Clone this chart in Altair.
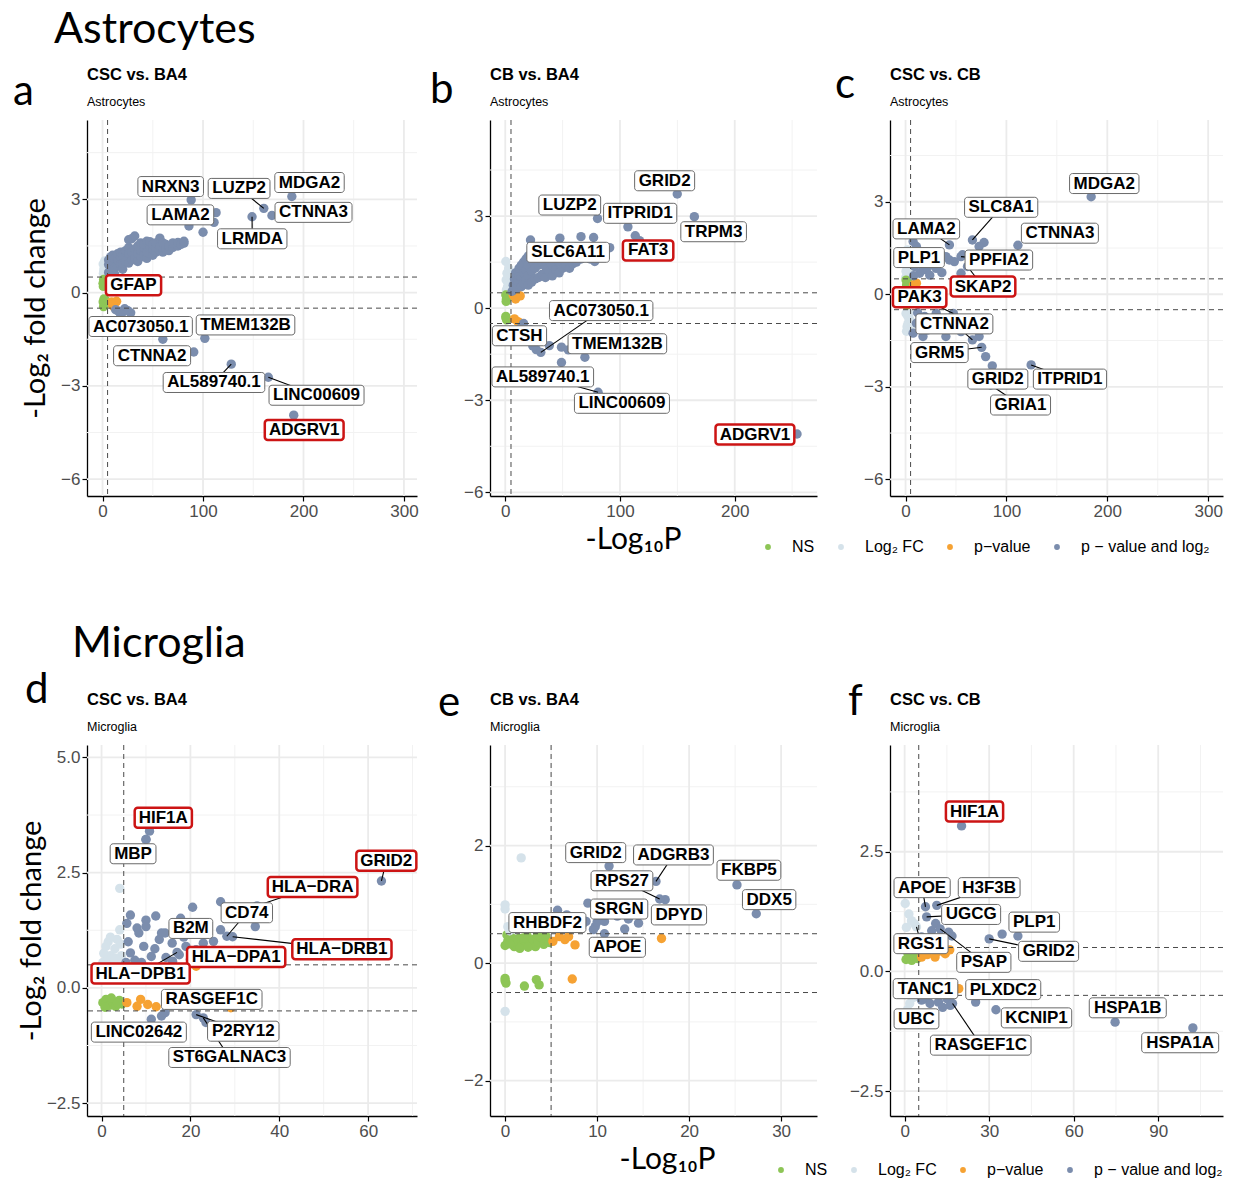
import altair as alt
import pandas as pd

P_CUT = 5
FC_CUT = 0.5

CATS = ["NS", "Log₂ FC", "p−value", "p − value and log₂"]
CAT_COLORS = ["#8DC556", "#D5E2EA", "#F6A233", "#7B8DAD"]

# ---------------- panel a : CSC vs. BA4, Astrocytes ----------------
A_POINTS = [
    (0.8, 0.62), (1.5, 0.78), (0.6, 0.92), (2.2, 1.02), (1.2, 0.7), (3.0, 0.88),
    (0.5, 0.3), (1.0, 0.42), (2.0, 0.35), (0.8, 0.2), (1.5, -0.2), (0.6, -0.3), (2.0, -0.4),
    (1.0, -0.45), (3.0, -0.25), (2.5, 0.28),
    (9, -0.3), (12, -0.35), (11, -0.45), (14, -0.28), (8, 0.42), (10, -0.4),
    (6, 0.65), (6, 0.9), (6, 1.05), (8, 0.7), (8, 0.95), (8, 1.15), (10, 0.75), (10, 1.0), (10, 1.2),
    (12, 0.6), (12, 0.8), (12, 1.1), (15, 0.85), (15, 1.05), (15, 1.25), (18, 0.9), (18, 1.15),
    (18, 1.3), (20, 0.75), (20, 0.95), (20, 1.2), (23, 1.0), (23, 1.3), (23, 1.35), (26, 0.95),
    (26, 1.25), (26, 1.45), (26, 1.7), (29, 1.05), (29, 1.3), (29, 1.73), (32, 1.1), (32, 1.4),
    (32, 1.82), (35, 1.0), (35, 1.25), (35, 1.5), (38, 1.15), (38, 1.35), (38, 1.6), (41, 1.2),
    (41, 1.45), (41, 1.55), (44, 1.1), (44, 1.3), (44, 1.65), (47, 1.25), (47, 1.5), (47, 1.64),
    (50, 1.2), (50, 1.4), (50, 1.55), (53, 1.3), (53, 1.45), (53, 1.6), (57, 1.35), (57, 1.5),
    (57, 1.75), (60, 1.3), (60, 1.45), (60, 1.6), (63, 1.4), (63, 1.55), (66, 1.35), (66, 1.5),
    (70, 1.45), (70, 1.6), (75, 1.5), (75, 1.61), (78, 1.55), (81, 1.59), (81, 1.65), (86, 2.14),
    (100, 1.94), (111, 2.26),
    (13, -0.55), (16, -0.6), (20, -0.62), (24, -0.58), (28, -0.65), (18, -0.7), (22, -0.52),
    (60, -1.5),
]
A_LABELS = [  # label, label x, label y, point x, point y, highlighted, segment
    ("NRXN3", 67.8, 3.41, 88.2, 2.98, 0, 0),
    ("LUZP2", 135.9, 3.35, 160.5, 2.71, 0, 1),
    ("MDGA2", 206, 3.54, 188.4, 3.09, 0, 0),
    ("CTNNA3", 210, 2.58, 168.6, 2.48, 0, 0),
    ("LRMDA", 149, 1.73, 148.8, 2.44, 0, 1),
    ("LAMA2", 77.5, 2.5, 113, 2.57, 0, 0),
    ("GFAP", 30.8, 0.24, 1.0, 0.3, 1, 0),
    ("AC073050.1", 37.9, -1.09, 25, -0.58, 0, 0),
    ("TMEM132B", 142.3, -1.04, 101.8, -1.47, 0, 0),
    ("CTNNA2", 49.3, -2.03, 90.8, -1.91, 0, 0),
    ("AL589740.1", 110.9, -2.89, 128.1, -2.30, 0, 1),
    ("LINC00609", 213, -3.30, 165, -2.72, 0, 1),
    ("ADGRV1", 200.7, -4.42, 190.3, -3.94, 1, 0),
]

# ---------------- panel b : CB vs. BA4, Astrocytes ----------------
B_POINTS = [
    (0.5, 1.52), (1.5, 1.14), (0.8, 0.92), (3, 1.3), (2, 0.7), (1, 0.6), (3.5, 0.85), (4, 1.0),
    (0.5, 0.43), (1, 0.3), (0.8, 0.22), (2, 0.35), (0.5, -0.27), (1.2, -0.38), (0.6, -0.32), (3, 0.4),
    (7, 0.42), (10, 0.48), (13, 0.4), (8, -0.35), (11, -0.44), (13, -0.49), (9, 0.3),
    (6, 0.55), (7, 0.75), (8, 0.95), (9, 1.15), (10, 0.65), (11, 0.85), (12, 1.05), (12, 1.3),
    (14, 0.7), (14, 1.0), (14, 1.4), (16, 0.8), (16, 1.15), (16, 1.5), (18, 0.9), (18, 1.25),
    (18, 1.6), (20, 0.75), (20, 1.05), (20, 1.4), (20, 1.7), (22, 2.22), (23, 0.85), (23, 1.2),
    (23, 1.55), (26, 0.95), (26, 1.3), (26, 1.65), (29, 1.0), (29, 1.4), (29, 1.8), (32, 1.1),
    (32, 1.5), (35, 1.0), (35, 1.35), (35, 1.7), (38, 1.2), (38, 1.55), (41, 1.05), (41, 1.4),
    (41, 1.85), (44, 1.25), (44, 1.6), (47, 1.15), (47, 1.5), (50, 1.3), (50, 1.7), (53, 1.4),
    (53, 1.9), (56, 1.3), (56, 1.6), (59, 1.45), (59, 1.8), (62, 1.5), (62, 2.0), (66, 2.33),
    (66, 1.6), (70, 1.7), (74, 1.6), (77, 2.3), (78, 1.52), (80, 1.85), (85, 1.75), (91, 1.97),
    (117, 2.2),
    (16, -0.5), (19, -0.81), (21.7, -1.03), (27, -1.35), (38.4, -1.22), (49, -1.27), (55, -1.36),
    (49, -1.77), (14, -0.62), (22, -0.7),
]
B_LABELS = [
    ("GRID2", 138.9, 4.15, 149.9, 3.72, 0, 0),
    ("LUZP2", 56.2, 3.36, 80.4, 2.92, 0, 0),
    ("ITPRID1", 117.6, 3.09, 106.9, 2.65, 0, 0),
    ("TRPM3", 181.6, 2.49, 164.8, 2.98, 0, 0),
    ("SLC6A11", 54.8, 1.82, 47.6, 2.28, 0, 0),
    ("FAT3", 124.5, 1.88, 113.3, 2.36, 1, 0),
    ("AC073050.1", 83.6, -0.08, 31, -1.44, 0, 1),
    ("CTSH", 12.4, -0.9, 24, -1.23, 0, 0),
    ("TMEM132B", 97.7, -1.16, 69.4, -1.6, 0, 0),
    ("AL589740.1", 32.7, -2.24, 80.9, -2.74, 0, 1),
    ("LINC00609", 101.7, -3.1, 101.7, -3.0, 0, 0),
    ("ADGRV1", 217.6, -4.12, 254.3, -4.1, 1, 0),
]

# ---------------- panel c : CSC vs. CB, Astrocytes ----------------
C_POINTS = [
    (1, 1.0), (2.6, 0.57), (1, 1.11), (2, 1.44), (0.5, -0.62), (2.5, -0.94), (1.5, -1.05),
    (3.5, -0.62), (0.5, 0.75), (3, 0.8), (4, -0.8), (2, -0.7), (4, 1.2), (1, -1.2), (3, 1.3),
    (0.3, 0.55), (4.5, -1.1),
    (0.5, 0.46), (1, 0.3), (4, 0.25), (2.5, 0.38), (1.5, 0.15), (3, -0.2), (1, -0.35), (2, 0.05),
    (10.8, 0.36), (8, 0.3), (7, -0.2), (9, 0.1),
    (7.5, 1.71), (10.8, 1.55), (77.8, 1.68), (72.9, 1.55), (56.5, 1.28), (43.5, 1.11), (48.4, 1.06),
    (30.4, 0.84), (20.6, 0.79), (14, 0.68), (40, 1.22), (33.7, 1.0), (19, 1.11), (12.4, 1.22),
    (25.5, 0.95), (55, 0.68), (9, 0.9), (8, 0.6), (16, 0.95), (24, 0.62), (36, 0.7),
    (7.5, -1.26), (17.3, -1.37), (22, -1.16), (30.4, -1.05), (40, -1.37), (30.4, -0.62),
    (19, -0.72), (55, -1.21), (72.9, -1.37), (79.4, -2.02), (10.8, -0.94), (12, -0.6),
    (25, -0.85), (38, -0.9),
]
C_LABELS = [
    ("MDGA2", 197, 3.59, 184, 3.16, 0, 0),
    ("SLC8A1", 94.8, 2.82, 66.3, 1.76, 0, 1),
    ("LAMA2", 20.6, 2.12, 43.5, 1.6, 0, 1),
    ("CTNNA3", 153, 1.98, 111.4, 1.59, 0, 0),
    ("PLP1", 13.4, 1.19, 12.4, 1.22, 0, 0),
    ("PPFIA2", 92.5, 1.11, 55, 1.22, 0, 1),
    ("SKAP2", 76.8, 0.25, 61.4, 0.9, 1, 1),
    ("PAK3", 14, -0.1, 47.4, -0.62, 1, 1),
    ("CTNNA2", 48.4, -0.96, 66.3, -1.48, 0, 1),
    ("GRM5", 33.7, -1.89, 75.5, -1.72, 0, 1),
    ("GRID2", 91.5, -2.75, 86, -2.32, 0, 0),
    ("ITPRID1", 163, -2.75, 124.5, -2.29, 0, 1),
    ("GRIA1", 114, -3.59, 84.3, -2.94, 0, 1),
]

# ---------------- panel d : CSC vs. BA4, Microglia ----------------
D_POINTS = [
    (4.1, 2.16), (4.1, 1.26), (1, 0.6), (2, 0.7), (3, 0.85), (1.5, 1.0), (0.5, 0.75), (4, 0.55),
    (3.5, 1.05), (2.5, 0.58), (1, 0.9), (4.5, 0.7), (2, 1.1), (3, 0.65), (0.3, 0.55), (4.3, 0.95),
    (5.7, 1.4), (6.5, 1.58), (10, 1.47), (12.2, 1.56), (8.4, 1.19), (10, 1.33), (14.3, 1.19),
    (17.8, 1.51), (20.5, 1.75), (26.8, 1.87), (26.8, 1.26), (25.2, 1.01), (19, 0.9), (15.9, 0.97),
    (13, 1.05), (9.5, 0.9), (6.5, 0.76), (11.2, 0.68), (14.5, 0.66), (17.5, 0.72), (21.3, 0.83),
    (22.9, 0.97), (34.6, 1.33), (10, 3.22), (6, 1.0), (7.5, 0.6), (8, 1.3), (12, 0.85),
    (16, 0.58), (18.5, 1.1), (23, 1.2), (20, 0.62), (5.5, 0.55), (9, 0.55), (27, 0.8),
    (0.3, -0.32), (1, -0.25), (1.8, -0.38), (2.5, -0.3), (3.2, -0.4), (4, -0.27), (4.6, -0.35),
    (0.8, -0.42), (2.2, -0.22), (3.6, -0.33),
    (8.8, -0.25), (10.4, -0.36), (12.3, -0.41), (5.7, -0.32), (8, -0.4), (21.3, 0.47),
    (29.1, -0.43), (6.5, 0.45), (14, 0.45),
    (13.5, -0.61), (23.5, -0.75),
]
D_LABELS = [
    ("HIF1A", 13.9, 3.69, 10.8, 3.40, 1, 0),
    ("MBP", 7.1, 2.91, 10, 3.22, 0, 0),
    ("GRID2", 64.1, 2.76, 63, 2.32, 1, 1),
    ("HLA−DRA", 47.5, 2.19, 35, 1.78, 1, 1),
    ("CD74", 32.7, 1.63, 28.2, 1.12, 0, 1),
    ("B2M", 20.1, 1.29, 13.5, 1.19, 0, 0),
    ("HLA−DRB1", 54.1, 0.84, 29.5, 1.11, 1, 1),
    ("HLA−DPA1", 30.3, 0.67, 24.5, 0.68, 1, 0),
    ("HLA−DPB1", 8.8, 0.31, 17, 0.77, 1, 1),
    ("RASGEF1C", 24.8, -0.25, 14.3, -0.54, 0, 0),
    ("LINC02642", 8.4, -0.96, 11.2, -0.68, 0, 0),
    ("P2RY12", 31.9, -0.94, 21.3, -0.58, 0, 1),
    ("ST6GALNAC3", 28.8, -1.51, 22.9, -0.65, 0, 1),
]

# ---------------- panel e : CB vs. BA4, Microglia ----------------
E_POINTS = [
    (0, 0.3), (0.3, 0.38), (0.6, 0.45), (1, 0.28), (1.2, 0.35), (1.5, 0.42), (1.8, 0.3),
    (2.1, 0.38), (2.4, 0.46), (2.7, 0.33), (3, 0.4), (3.3, 0.28), (3.6, 0.36), (3.9, 0.44),
    (4.2, 0.32), (4.5, 0.4), (4.8, 0.35), (0.2, 0.48), (0.9, 0.41), (1.6, 0.25), (2.5, 0.27),
    (3.5, 0.47), (4.4, 0.47), (0.5, 0.33), (2, 0.43), (0, -0.26), (0.1, -0.34), (2.1, -0.39),
    (3.4, -0.28), (3.7, -0.37), (0, -0.3),
    (1.75, 1.79), (0, 0.99), (0, 0.92), (0, -0.82), (0.3, 0.62), (0.5, 0.55), (1, 0.58),
    (5.2, 0.37), (5.9, 0.45), (6.5, 0.4), (6.9, 0.45), (7.6, 0.31), (17, 0.42), (7.3, -0.27),
    (6.7, 0.82), (7.7, 0.77), (9, 1.02), (8.8, 0.71), (9.8, 0.62), (9.6, 0.57), (13, 0.58),
    (13.4, 0.75), (14.5, 0.68), (17.4, 1.08), (8.5, 0.68), (7.4, 0.68), (6.2, 0.6), (12.2, 0.8),
    (10, 0.7),
]
E_LABELS = [
    ("GRID2", 9.85, 1.88, 11.3, 1.65, 0, 0),
    ("ADGRB3", 18.3, 1.84, 16.4, 1.39, 0, 1),
    ("RPS27", 12.7, 1.40, 16.8, 1.09, 0, 1),
    ("FKBP5", 26.5, 1.58, 25.2, 1.33, 0, 0),
    ("DDX5", 28.7, 1.08, 27.3, 0.84, 0, 0),
    ("SRGN", 12.4, 0.92, 10.8, 0.71, 0, 0),
    ("DPYD", 18.9, 0.82, 17.2, 0.75, 0, 0),
    ("RHBDF2", 4.6, 0.69, 5.7, 0.9, 0, 0),
    ("APOE", 12.2, 0.27, 10.8, 0.5, 0, 0),
]

# ---------------- panel f : CSC vs. CB, Microglia ----------------
F_POINTS = [
    (0.2, 1.42), (0.6, 0.92), (2.4, 1.06), (3.6, 0.99), (1, -0.8), (3, -0.55), (1.5, 1.2), (0.5, 0.6),
    (9.6, 0.85), (15.6, 0.82), (16.8, 0.74), (9.6, 0.72), (6, 0.72), (34.6, 0.78), (13.5, 0.7),
    (11, 1.0),
    (7.2, -0.57), (9, -0.67), (12, -0.64), (15, -0.57), (16.2, -0.71), (13.5, -0.75), (6, -0.6),
    (0.5, 0.25), (1.5, 0.32), (2.5, 0.23), (3.5, 0.3), (4.5, 0.27), (1, 0.4), (3, 0.42),
    (10.8, 0.3), (14.4, 0.37), (12, 0.42), (6, 0.3), (8, 0.35), (16, 0.45),
]
F_LABELS = [
    ("HIF1A", 24.8, 3.34, 20.2, 3.04, 1, 0),
    ("APOE", 6.2, 1.75, 7.4, 1.35, 0, 1),
    ("H3F3B", 30, 1.75, 11.4, 1.38, 0, 1),
    ("UGCG", 23.6, 1.19, 7.8, 1.14, 0, 1),
    ("PLP1", 46, 1.03, 40.2, 0.74, 0, 0),
    ("RGS1", 5.8, 0.58, 4.2, 0.93, 0, 1),
    ("GRID2", 51.1, 0.42, 30, 0.68, 0, 1),
    ("PSAP", 28.1, 0.19, 12.6, 0.89, 0, 1),
    ("TANC1", 7.4, -0.36, 19.2, -0.36, 0, 0),
    ("PLXDC2", 35, -0.38, 25.2, -0.64, 0, 0),
    ("UBC", 4.2, -0.99, 1.8, -0.67, 0, 0),
    ("KCNIP1", 46.8, -0.97, 32.4, -0.8, 0, 0),
    ("RASGEF1C", 27, -1.54, 17, -0.67, 0, 1),
    ("HSPA1B", 79.2, -0.76, 74.7, -1.06, 0, 0),
    ("HSPA1A", 97.8, -1.49, 102.3, -1.18, 0, 0),
]

COL_W = [330, 327, 333]
ROW_H = [376, 371]
LABEL_FS = 17

# Arial/Liberation Sans Bold advance widths (1/1000 em) for box sizing
_AW = dict(zip("ABCDEFGHIJKLMNOPQRSTUVWXYZ",
               [722, 722, 722, 722, 667, 611, 778, 722, 278, 556, 722, 611, 833,
                722, 778, 667, 778, 722, 667, 611, 722, 667, 944, 667, 667, 611]))


def text_w(s):
    tot = 0
    for ch in s:
        if ch in _AW:
            tot += _AW[ch]
        elif ch.isdigit():
            tot += 556
        elif ch == ".":
            tot += 278
        else:
            tot += 584
    return tot * LABEL_FS / 1000.0


def box_path(s):
    w = text_w(s) + 8
    h = 20
    r = 3
    x0, x1, y0, y1 = -w / 2, w / 2, -h / 2, h / 2
    return (f"M{x0 + r:.1f},{y0:.1f}H{x1 - r:.1f}A{r},{r} 0 0 1 {x1:.1f},{y0 + r:.1f}"
            f"V{y1 - r:.1f}A{r},{r} 0 0 1 {x1 - r:.1f},{y1:.1f}H{x0 + r:.1f}"
            f"A{r},{r} 0 0 1 {x0:.1f},{y1 - r:.1f}V{y0 + r:.1f}A{r},{r} 0 0 1 {x0 + r:.1f},{y0:.1f}Z")


def category(x, y):
    if x < P_CUT and abs(y) < FC_CUT:
        return CATS[0]
    if x < P_CUT:
        return CATS[1]
    if abs(y) < FC_CUT:
        return CATS[2]
    return CATS[3]


PANELS = [
    dict(title="CSC vs. BA4", sub="Astrocytes", pts=A_POINTS, labs=A_LABELS,
         xdom=[-15.5, 313], ydom=[-6.54, 5.55], xmaj=[0, 100, 200, 300], xmin=[50, 150, 250],
         ymaj=[-6, -3, 0, 3], ymin=[-4.5, -1.5, 1.5, 4.5], yfmt="d",
         letter=("a", -74, -15), section=("Astrocytes", -33, -77), ytitle=10, xtitle=None,
         legend=None, w=COL_W[0], h=ROW_H[0]),
    dict(title="CB vs. BA4", sub="Astrocytes", pts=B_POINTS, labs=B_LABELS,
         xdom=[-13.3, 271.7], ydom=[-6.12, 6.13], xmaj=[0, 100, 200], xmin=[50, 150, 250],
         ymaj=[-6, -3, 0, 3], ymin=[-4.5, -1.5, 1.5, 4.5], yfmt="d",
         letter=("b", -60, -17), section=None, ytitle=None, xtitle=143,
         legend=None, w=COL_W[1], h=ROW_H[0]),
    dict(title="CSC vs. CB", sub="Astrocytes", pts=C_POINTS, labs=C_LABELS,
         xdom=[-15.4, 314.7], ydom=[-6.54, 5.65], xmaj=[0, 100, 200, 300], xmin=[50, 150, 250],
         ymaj=[-6, -3, 0, 3], ymin=[-4.5, -1.5, 1.5, 4.5], yfmt="d",
         letter=("c", -55, -22), section=None, ytitle=None, xtitle=None,
         legend=(-130, 419), w=COL_W[2], h=ROW_H[0]),
    dict(title="CSC vs. BA4", sub="Microglia", pts=D_POINTS, labs=D_LABELS,
         xdom=[-3.27, 71], ydom=[-2.78, 5.27], xmaj=[0, 20, 40, 60], xmin=[10, 30, 50, 70],
         ymaj=[-2.5, 0, 2.5, 5.0], ymin=[-1.25, 1.25, 3.75], yfmt=".1f",
         letter=("d", -62, -42), section=("Microglia", -15, -88), ytitle=0, xtitle=None,
         legend=None, w=COL_W[0], h=ROW_H[1]),
    dict(title="CB vs. BA4", sub="Microglia", pts=E_POINTS, labs=E_LABELS,
         xdom=[-1.64, 33.9], ydom=[-2.6, 3.71], xmaj=[0, 10, 20, 30], xmin=[5, 15, 25],
         ymaj=[-2, 0, 2], ymin=[-1, 1, 3], yfmt="d",
         letter=("e", -52, -29), section=None, ytitle=None, xtitle=177,
         legend=None, w=COL_W[1], h=ROW_H[1]),
    dict(title="CSC vs. CB", sub="Microglia", pts=F_POINTS, labs=F_LABELS,
         xdom=[-5.2, 113], ydom=[-3.02, 4.73], xmaj=[0, 30, 60, 90], xmin=[15, 45, 75, 105],
         ymaj=[-2.5, 0, 2.5], ymin=[-1.25, 1.25, 3.75], yfmt=".1f",
         letter=("f", -42, -30), section=None, ytitle=None, xtitle=None,
         legend=(-117, 417), w=COL_W[2], h=ROW_H[1]),
]


def text_layer(txt, x, y, font, size, weight="normal"):
    return alt.Chart(pd.DataFrame({"t": [txt]})).mark_text(
        font=font, fontSize=size, fontWeight=weight, color="black", align="left",
        baseline="alphabetic").encode(x=alt.value(x), y=alt.value(y), text="t:N")


def build_panel(P):
    xaxis_kw = dict(values=P["xmaj"], format="d", grid=False)
    if P["xtitle"] is not None:
        xaxis_kw.update(title="-Log₁₀P", titleFontSize=30, titlePadding=5, titleX=P["xtitle"],
                        titleFont="Lato", titleFontWeight="normal", titleColor="black")
    else:
        xaxis_kw.update(title=None)
    yaxis_kw = dict(values=P["ymaj"], format=P["yfmt"], grid=False)
    if P["ytitle"] is not None:
        yaxis_kw.update(title="-Log₂ fold change", titleFontSize=29, titlePadding=P["ytitle"],
                        titleFont="Lato", titleFontWeight="normal", titleColor="black")
    else:
        yaxis_kw.update(title=None)

    xs = alt.Scale(domain=P["xdom"], nice=False, zero=False)
    ys = alt.Scale(domain=P["ydom"], nice=False, zero=False)

    def X(f="x"):
        return alt.X(f"{f}:Q", scale=xs, axis=alt.Axis(**xaxis_kw))

    def Y(f="y"):
        return alt.Y(f"{f}:Q", scale=ys, axis=alt.Axis(**yaxis_kw))

    gxmin = alt.Chart(pd.DataFrame({"x": P["xmin"]})).mark_rule(color="#F2F2F2", strokeWidth=1).encode(x=X())
    gymin = alt.Chart(pd.DataFrame({"y": P["ymin"]})).mark_rule(color="#F2F2F2", strokeWidth=1).encode(y=Y())
    gxmaj = alt.Chart(pd.DataFrame({"x": P["xmaj"]})).mark_rule(color="#EBEBEB", strokeWidth=1.8).encode(x=X())
    gymaj = alt.Chart(pd.DataFrame({"y": P["ymaj"]})).mark_rule(color="#EBEBEB", strokeWidth=1.8).encode(y=Y())

    labs = pd.DataFrame(P["labs"], columns=["label", "lx", "ly", "px", "py", "hl", "seg"])
    pts = list(P["pts"]) + [(r.px, r.py) for r in labs.itertuples()]
    pdf = pd.DataFrame(pts, columns=["x", "y"])
    pdf["cat"] = [category(a, b) for a, b in pts]

    if P["legend"] is None:
        leg = None
    else:
        leg = alt.Legend(orient="none", legendX=P["legend"][0], legendY=P["legend"][1],
                         direction="horizontal", title=None, symbolType="circle", symbolSize=34,
                         symbolStrokeWidth=0, symbolOpacity=1, labelFontSize=16,
                         labelFont="Liberation Sans", labelColor="black", labelOffset=16,
                         columnPadding=18, padding=0)
    points = alt.Chart(pdf).mark_circle(size=88, opacity=1).encode(
        x=X(), y=Y(),
        color=alt.Color("cat:N", scale=alt.Scale(domain=CATS, range=CAT_COLORS), legend=leg),
    )

    vcut = alt.Chart(pd.DataFrame({"x": [P_CUT]})).mark_rule(
        color="#4A4A4A", strokeDash=[5, 4], strokeWidth=1).encode(x=X())
    hcut = alt.Chart(pd.DataFrame({"y": [FC_CUT, -FC_CUT]})).mark_rule(
        color="#4A4A4A", strokeDash=[5, 4], strokeWidth=1).encode(y=Y())

    segdf = labs[labs.seg == 1].rename(columns={"px": "x", "py": "y"})
    segs = alt.Chart(segdf).mark_rule(color="black", strokeWidth=1.1).encode(
        x=X(), y=Y(), x2="lx:Q", y2="ly:Q")

    bdf = labs.rename(columns={"lx": "x", "ly": "y"}).copy()
    bdf["path"] = [box_path(s) for s in bdf.label]
    normal = bdf[bdf.hl == 0]
    hil = bdf[bdf.hl == 1]
    boxes = alt.Chart(normal).mark_point(filled=True, fill="white", stroke="#6A6A6A",
                                         strokeWidth=1, opacity=1, size=4).encode(
        x=X(), y=Y(), shape=alt.Shape("path:N", scale=None, legend=None))
    rboxes = alt.Chart(hil).mark_point(filled=True, fill="white", stroke="#CC1414",
                                       strokeWidth=2.5, opacity=1, size=4).encode(
        x=X(), y=Y(), shape=alt.Shape("path:N", scale=None, legend=None))
    texts = alt.Chart(bdf).mark_text(font="Liberation Sans", fontWeight="bold", fontSize=LABEL_FS,
                                     color="black", align="center", baseline="middle").encode(
        x=X(), y=Y(), text="label:N")

    lt, lx, ly = P["letter"]
    layers = [gxmin, gymin, gxmaj, gymaj, points, vcut, hcut]
    if len(segdf):
        layers.append(segs)
    if len(normal):
        layers.append(boxes)
    if len(hil):
        layers.append(rboxes)
    layers += [
        texts,
        text_layer(lt, lx, ly, "Lato", 42),
        text_layer(P["title"], 0, -40, "Liberation Sans", 16.5, "bold"),
        text_layer(P["sub"], 0, -14, "Liberation Sans", 12.5),
    ]
    if P["section"] is not None:
        st, sx, sy = P["section"]
        layers.append(text_layer(st, sx, sy, "Lato", 43))

    return alt.layer(*layers).properties(width=P["w"], height=P["h"])


charts = [build_panel(P) for P in PANELS]

chart = alt.concat(*charts, columns=3, spacing={"row": 249, "column": 73}, bounds="flush").resolve_scale(
    color="independent"
).configure_view(stroke=None).configure_axis(
    domainColor="black", domainWidth=1.3, tickColor="black", tickWidth=1.2, tickSize=5,
    labelColor="#4D4D4D", labelFontSize=17, labelFont="Liberation Sans", labelPadding=2,
).properties(
    padding={"left": 13, "top": 9, "right": 2, "bottom": 0}, background="white"
)

chart.save("out.html", embed_options={"renderer": "svg", "actions": False})
